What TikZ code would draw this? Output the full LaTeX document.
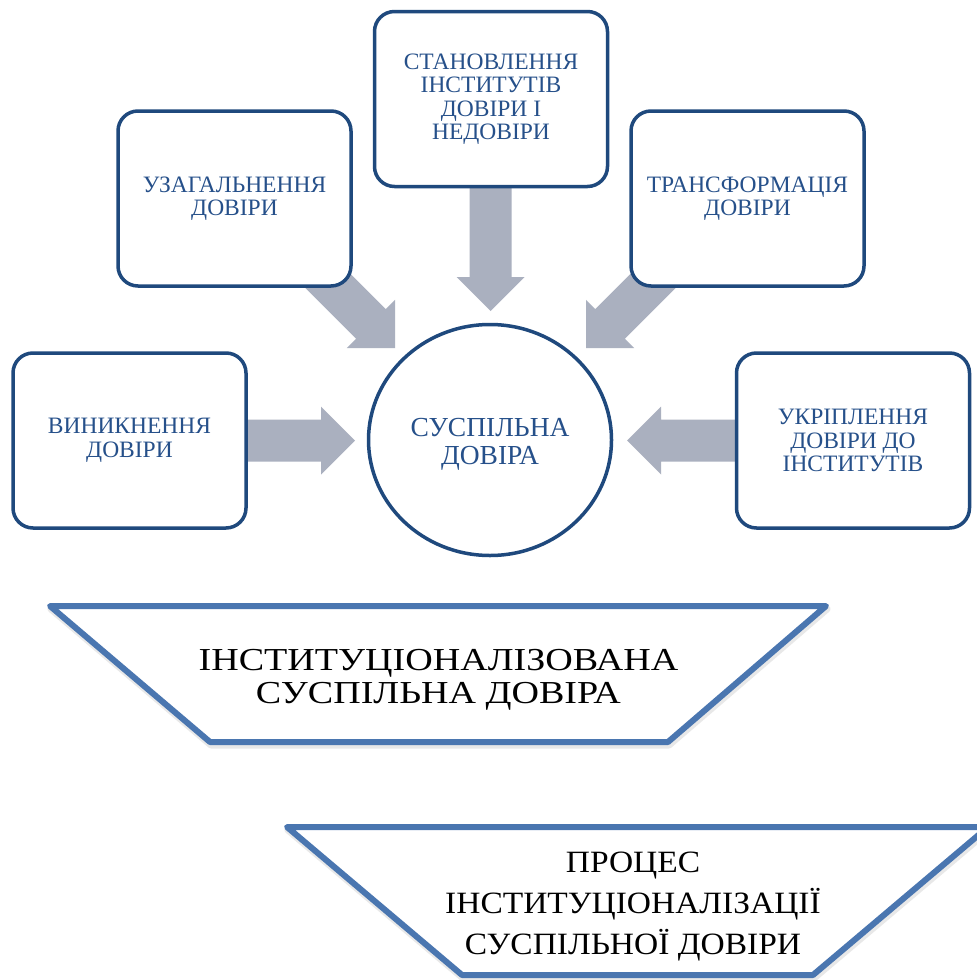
\documentclass[tikz,border=0pt]{standalone}
\usepackage{fontspec}
\setmainfont{Liberation Serif}
\newfontfamily\wideA[FakeStretch=1.19]{Liberation Serif}
\newfontfamily\wideB[FakeStretch=1.08]{Liberation Serif}
\usetikzlibrary{shapes.geometric,backgrounds}
\definecolor{boxblue}{RGB}{31,73,125}
\definecolor{txtblue}{RGB}{38,80,138}
\definecolor{arrgray}{RGB}{170,176,191}
\definecolor{trapblue}{RGB}{74,118,176}
\tikzset{
  stagebox/.style={draw=boxblue, line width=3.5pt, rounded corners=20pt, fill=white,
    minimum width=233pt, minimum height=175pt, align=center, text=txtblue,
    font=\fontsize{23.5}{23.5}\selectfont, inner sep=0pt},
  centreell/.style={ellipse, draw=boxblue, line width=3.5pt, fill=white,
    minimum width=243pt, minimum height=231pt, inner sep=0pt},
  centretext/.style={align=center, text=txtblue, font=\fontsize{27.5}{28}\selectfont, inner sep=0pt},
  blockarr/.style={fill=arrgray, draw=none},
  trapline/.style={draw=trapblue, line width=6pt, line join=round, fill=white},
  trapshadow/.style={draw=black!25, line width=7pt, line join=round, opacity=0.35},
  traptext/.style={align=center, text=black, inner sep=0pt}
}
\begin{document}
\begin{tikzpicture}[x=1pt,y=-1pt]
\useasboundingbox (0,0) rectangle (977,980);

% nodes
\node[stagebox] (b1) at (129.5,440.5) {ВИНИКНЕННЯ\\ДОВІРИ};
\node[stagebox] (b2) at (234.5,198.5) {УЗАГАЛЬНЕННЯ\\ДОВІРИ};
\node[stagebox] (b3) at (491,99) {СТАНОВЛЕННЯ\\ІНСТИТУТІВ\\ДОВІРИ І\\НЕДОВІРИ};
\node[stagebox] (b4) at (747.5,198.5) {ТРАНСФОРМАЦІЯ\\ДОВІРИ};
\node[stagebox] (b5) at (853,440.5) {УКРІПЛЕННЯ\\ДОВІРИ ДО\\ІНСТИТУТІВ};
\node[centreell] (c) at (490,440) {};
\node[centretext] (ct) at (c.center) [yshift=-4pt] {СУСПІЛЬНА\\ДОВІРА};

% block arrows behind
\begin{scope}[on background layer]
\fill[white] (0,0) rectangle (977,980);
\fill[blockarr] (469.5,180) -- (511.5,180) -- (511.5,277) -- (524.5,277) -- (490.5,311) -- (456.5,277) -- (469.5,277) -- cycle;
\fill[blockarr] (240,419.5) -- (321,419.5) -- (321,406.5) -- (355,440.5) -- (321,474.5) -- (321,461.5) -- (240,461.5) -- cycle;
\fill[blockarr] (745,419.5) -- (661,419.5) -- (661,406.5) -- (627,440.5) -- (661,474.5) -- (661,461.5) -- (745,461.5) -- cycle;
\fill[blockarr] (314.85,238.15) -- (385.8,309.1) -- (395,299.9) -- (395,348) -- (346.9,348) -- (356.1,338.8) -- (285.15,267.85) -- cycle;
\fill[blockarr] (666.15,238.15) -- (595.2,309.1) -- (586,299.9) -- (586,348) -- (634.1,348) -- (624.9,338.8) -- (695.85,267.85) -- cycle;
\end{scope}

% trapezoids
\coordinate (t1a) at (50,606);
\coordinate (t1b) at (826,606);
\coordinate (t1c) at (668,742);
\coordinate (t1d) at (210,742);
\draw[trapshadow] ([shift={(1,3)}]t1a) -- ([shift={(1,3)}]t1b) -- ([shift={(1,3)}]t1c) -- ([shift={(1,3)}]t1d) -- cycle;
\draw[trapline] (t1a) -- (t1b) -- (t1c) -- (t1d) -- cycle;
\node[traptext, font=\wideA\fontsize{32}{33}\selectfont] (tx1) at (438.5,680) {ІНСТИТУЦІОНАЛІЗОВАНА\\СУСПІЛЬНА ДОВІРА};

\coordinate (t2a) at (287,827);
\coordinate (t2b) at (988,827);
\coordinate (t2c) at (813,975);
\coordinate (t2d) at (462,975);
\draw[trapshadow] ([shift={(1,3)}]t2a) -- ([shift={(1,3)}]t2b) -- ([shift={(1,3)}]t2c) -- ([shift={(1,3)}]t2d) -- cycle;
\draw[trapline] (t2a) -- (t2b) -- (t2c) -- (t2d) -- cycle;
\node[traptext, font=\wideB\fontsize{31}{41}\selectfont] (tx2) at (633,907) {ПРОЦЕС\\ІНСТИТУЦІОНАЛІЗАЦІЇ\\СУСПІЛЬНОЇ ДОВІРИ};
\end{tikzpicture}
\end{document}
